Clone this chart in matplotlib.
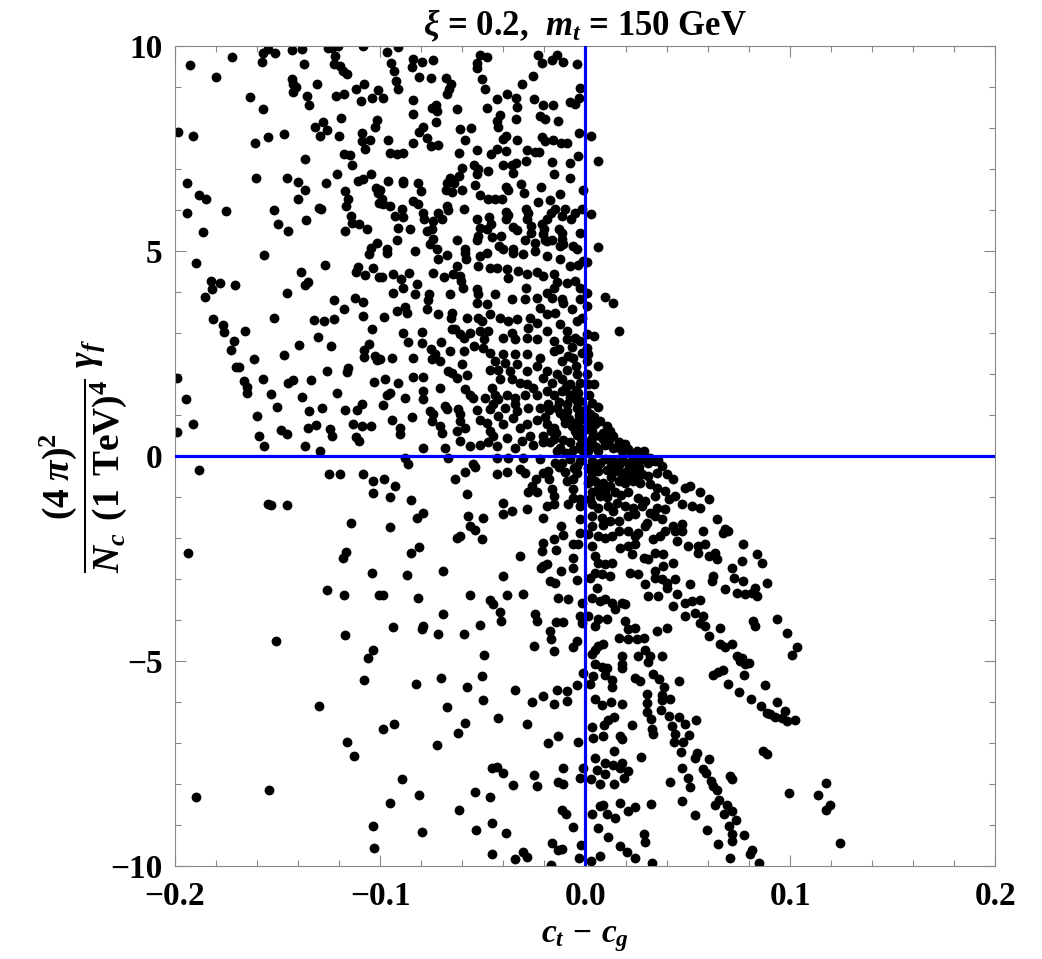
import numpy as np
import matplotlib
matplotlib.use("Agg")
import matplotlib.pyplot as plt
from matplotlib.ticker import MultipleLocator

plt.rcParams['mathtext.fontset'] = 'custom'
plt.rcParams['mathtext.rm'] = 'Liberation Serif:bold'
plt.rcParams['mathtext.it'] = 'Liberation Serif:bold:italic'
plt.rcParams['mathtext.bf'] = 'Liberation Serif:bold'
plt.rcParams['font.family'] = ['Liberation Serif', 'DejaVu Serif']
plt.rcParams['font.weight'] = 'bold'

title = r'$\xi$ = 0.2,  $m_t$ = 150 GeV'
xlabel = r'$c_t\,-\,c_g$'
ylabel = r'$\dfrac{(4\;\pi)^2}{N_c\;\,(1\;\,\mathrm{TeV})^4}\;\gamma_f$'
xticks = [-0.2, -0.1, 0.0, 0.1, 0.2]
xticklabels = ['\u22120.2', '\u22120.1', '0.0', '0.1', '0.2']
yticks = [-10, -5, 0, 5, 10]
yticklabels = ['\u221210', '\u22125', '0', '5', '10']

# region: x in [-0.2,-0.1], y in [5,10]
pts_a = [(-0.1927,9.53),(-0.1724,9.73),(-0.180,9.25),(-0.1569,9.84),(-0.1545,9.93),(-0.1512,9.82),(-0.1574,9.62),
(-0.1428,9.90),(-0.1379,9.93),(-0.1369,9.57),(-0.1255,9.96),(-0.1236,9.96),(-0.1203,10.0),(-0.122,9.76),(-0.1223,9.55),
(-0.1195,9.51),(-0.1179,9.39),(-0.1163,9.31),(-0.1081,10.0),(-0.1431,9.19),(-0.1423,9.07),(-0.1411,9.01),(-0.1423,8.88),
(-0.1354,8.78),(-0.1346,8.55),(-0.1309,9.07),(-0.1634,8.76),(-0.1569,8.47),(-0.1215,8.78),(-0.1174,8.84),(-0.1119,8.96),
(-0.1078,9.08),(-0.1094,8.67),(-0.1041,8.74),(-0.1011,8.92),(-0.1987,7.90),(-0.1911,7.80),(-0.161,7.64),(-0.1545,7.79),
(-0.1468,7.85),(-0.1317,8.03),(-0.1276,8.15),(-0.126,7.95),(-0.1293,7.80),(-0.1192,8.25),(-0.12,7.80),(-0.1089,7.87),
(-0.1089,7.68),(-0.1049,7.70),(-0.1024,8.02),(-0.1016,8.19),(-0.1073,7.48),(-0.1174,7.36),(-0.1146,7.33),(-0.1135,7.11),
(-0.1366,7.25),(-0.1211,6.87),(-0.1044,6.87),(-0.1941,6.67),(-0.1607,6.77),(-0.1452,6.77),(-0.1398,6.69),(-0.1366,6.49),
(-0.1265,6.67),(-0.1171,6.46),(-0.1106,6.71),(-0.1085,6.75),(-0.102,6.54),(-0.1008,6.42),(-0.1883,6.37),(-0.185,6.26),
(-0.1398,6.27),(-0.1154,6.28),(-0.1166,6.10),(-0.1005,6.18),(-0.1941,5.93),(-0.1753,5.98),(-0.1515,6.0),(-0.1298,6.05),
(-0.1288,6.03),(-0.1361,5.75),(-0.1496,5.65),(-0.1143,5.85),(-0.1138,5.69),(-0.1101,5.65),(-0.1062,5.54),(-0.1171,5.48),
(-0.1447,5.50),(-0.1862,5.47),(-0.1046,5.07),(-0.1016,5.20)]

# region: x in [-0.1,0], y in [5,10]
pts_b = [(-0.0967,9.85),(-0.0911,9.98),(-0.0946,9.59),(-0.0837,9.69),(-0.0846,9.49),(-0.0797,9.61),(-0.0743,9.67),
(-0.0932,9.38),(-0.0922,9.15),(-0.0911,8.96),(-0.0984,8.74),(-0.0808,9.25),(-0.0753,9.23),(-0.068,9.21),(-0.0654,9.08),
(-0.0663,8.94),(-0.0675,8.82),(-0.0841,8.68),(-0.0837,8.33),(-0.0748,8.48),(-0.0727,8.55),(-0.072,8.41),(-0.0626,8.47),
(-0.0727,8.15),(-0.0789,8.02),(-0.0808,7.90),(-0.0772,7.76),(-0.0753,7.56),(-0.0715,7.58),(-0.0959,7.70),(-0.0841,7.64),
(-0.0954,7.40),(-0.0919,7.36),(-0.0886,7.38),(-0.061,7.97),(-0.0558,8.01),(-0.0585,7.72),(-0.0615,7.38),(-0.0525,7.46),
(-0.0528,9.59),(-0.0512,9.77),(-0.0476,9.74),(-0.0528,9.47),(-0.0501,9.19),(-0.0488,8.96),(-0.0431,8.70),(-0.0379,8.82),
(-0.0338,8.74),(-0.0333,8.51),(-0.048,8.50),(-0.0415,8.32),(-0.0428,8.17),(-0.0423,8.02),(-0.0337,8.23),(-0.0309,9.08),
(-0.0255,9.28),(-0.0228,9.77),(-0.0208,9.59),(-0.0159,9.67),(-0.0135,9.77),(-0.0106,9.61),(-0.0041,9.55),(-0.0024,8.98),
(-0.0029,8.74),(-0.0073,8.63),(-0.0049,8.58),(-0.0247,8.72),(-0.0203,8.56),(-0.0158,8.55),(-0.022,8.29),(-0.0195,8.23),
(-0.013,8.17),(-0.0333,7.72),(-0.0385,7.80),(-0.0398,7.74),(-0.0211,7.79),(-0.0195,7.68),(-0.0158,7.71),(-0.0119,7.64),
(-0.0089,7.63),(-0.0028,7.89),(-0.0285,7.46),(-0.0244,7.41),(-0.0223,7.41),(-0.0431,7.48),(-0.0459,7.36),(-0.0385,7.44),
(-0.0033,7.32),(-0.0402,7.09),(-0.0358,7.11),(-0.0337,7.14),(-0.0289,7.20),(-0.0163,7.17),(-0.0073,7.14),(-0.0073,6.79),
(-0.0154,6.87),(-0.0354,6.91),(-0.0472,6.95),(-0.054,7.11),(-0.0524,6.99),(-0.0528,6.87),(-0.0602,7.03),(-0.0659,6.79),
(-0.0675,6.65),(-0.0639,6.67),(-0.0613,6.83),(-0.0678,6.50),(-0.065,6.45),(-0.0598,6.50),(-0.0537,6.60),(-0.0512,6.36),
(-0.0959,6.71),(-0.0889,6.71),(-0.0886,6.65),(-0.0816,6.67),(-0.08,6.46),(-0.1,6.50),(-0.0992,6.28),(-0.0984,6.14),
(-0.0954,6.10),(-0.0385,6.57),(-0.0377,6.49),(-0.0311,6.64),(-0.0298,6.42),(-0.0215,6.57),(-0.0122,6.40),(-0.0011,6.50),
(-0.0475,6.26),(-0.0439,6.26),(-0.0403,6.26),(-0.0228,6.20),(-0.0171,6.24),(-0.0837,6.22),(-0.0813,6.14),(-0.0789,5.93),
(-0.0894,6.02),(-0.0927,5.85),(-0.0889,5.84),(-0.0784,5.77),(-0.074,5.73),(-0.0719,5.93),(-0.0667,6.0),(-0.0696,5.79),
(-0.0675,6.10),(-0.0593,6.02),(-0.0528,5.79),(-0.0468,5.83),(-0.0459,5.65),(-0.0385,5.96),(-0.0377,5.87),(-0.0385,5.79),
(-0.0289,6.02),(-0.028,5.93),(-0.0265,5.61),(-0.0208,5.65),(-0.0198,5.53),(-0.0184,5.77),(-0.0167,5.93),(-0.0146,6.02),
(-0.0114,5.85),(-0.0098,6.02),(-0.007,5.77),(-0.0049,5.93),(-0.0016,6.02),(-0.0285,5.77),(-0.0911,5.57),(-0.0854,5.53),
(-0.0772,5.50),(-0.0748,5.53),(-0.0515,5.57),(-0.048,5.53),(-0.052,5.37),(-0.0455,5.34),(-0.0411,5.37),(-0.035,5.59),
(-0.0333,5.51),(-0.0263,5.45),(-0.0203,5.41),(-0.0195,5.28),(-0.0125,5.54),(-0.0114,5.45),(-0.0114,5.30),(-0.0106,5.16),
(-0.0057,5.12),(-0.0024,5.45),(-0.0919,5.28),(-0.074,5.30),(-0.0756,5.16),(-0.0623,5.26),(-0.0528,5.28),(-0.0418,5.12),
(-0.0293,5.28),(-0.0244,5.20),(-0.0187,5.24),(-0.0159,5.26),(-0.0122,5.12),(-0.0041,5.04),(-0.0967,5.04),(-0.0724,5.04),
(-0.0585,5.04),(-0.0398,5.04),(-0.035,5.04)]

# region: x in [-0.2,-0.1], y in [0,5]
pts_c = [(-0.1564,4.90),(-0.1898,4.70),(-0.1824,4.28),(-0.178,4.22),(-0.1818,4.07),(-0.1854,3.89),(-0.1707,4.16),
(-0.1387,4.50),(-0.1366,4.17),(-0.1353,4.24),(-0.1455,3.97),(-0.1268,4.67),(-0.1109,4.62),(-0.1117,4.49),(-0.1073,4.41),
(-0.1033,4.59),(-0.1005,4.37),(-0.1052,4.93),(-0.1816,3.33),(-0.1767,3.20),(-0.1759,3.02),(-0.1659,3.05),(-0.1711,2.80),
(-0.1727,2.59),(-0.1517,3.37),(-0.132,3.32),(-0.1275,3.29),(-0.1224,3.35),(-0.1224,3.80),(-0.1174,3.58),(-0.1122,3.86),
(-0.1081,3.76),(-0.1085,3.41),(-0.1041,3.11),(-0.1304,2.90),(-0.1395,2.71),(-0.1239,2.68),(-0.1052,2.74),(-0.1076,2.59),
(-0.1078,2.42),(-0.1024,2.44),(-0.1013,2.34),(-0.1613,2.36),(-0.1468,2.46),(-0.1702,2.18),(-0.1688,2.18),(-0.1992,1.91),
(-0.1662,1.83),(-0.1647,1.69),(-0.165,1.54),(-0.1569,1.88),(-0.145,1.77),(-0.1423,1.85),(-0.1337,1.85),(-0.1257,2.07),
(-0.1158,2.15),(-0.1163,2.05),(-0.1028,1.80),(-0.1948,1.38),(-0.1533,1.52),(-0.1382,1.45),(-0.1211,1.53),(-0.1602,0.97),
(-0.1501,1.19),(-0.1345,1.10),(-0.1281,1.18),(-0.1169,1.13),(-0.1111,1.11),(-0.1089,1.26),(-0.1911,0.77),(-0.1989,0.59),
(-0.1589,0.50),(-0.1564,0.24),(-0.1483,0.63),(-0.1455,0.54),(-0.135,0.69),(-0.1314,0.75),(-0.1244,0.65),(-0.1233,0.50),
(-0.113,0.79),(-0.1089,0.73),(-0.1044,0.72),(-0.1117,0.46),(-0.1102,0.37),(-0.1366,0.24),(-0.1293,0.11)]

# region: x in [-0.1,0], y in [0,5]
pts_d = [(-0.0967,4.96),(-0.0829,4.99),(-0.0715,4.80),(-0.0675,4.90),(-0.0585,4.96),(-0.0582,4.80),(-0.0512,4.88),
(-0.048,4.96),(-0.035,4.96),(-0.0301,4.92),(-0.0244,4.99),(-0.0187,4.88),(-0.0122,4.80),(-0.0073,4.63),(-0.0033,4.67),
(-0.0008,4.76),(-0.0992,4.37),(-0.0938,4.43),(-0.0899,4.31),(-0.0857,4.47),(-0.074,4.47),(-0.0686,4.37),(-0.0646,4.45),
(-0.061,4.39),(-0.0626,4.63),(-0.052,4.63),(-0.0463,4.59),(-0.0431,4.59),(-0.0382,4.55),(-0.0374,4.35),(-0.0325,4.51),
(-0.0285,4.43),(-0.0236,4.50),(-0.0203,4.39),(-0.0154,4.43),(-0.0138,4.25),(-0.0089,4.23),(-0.0049,4.27),(-0.0024,4.11),
(-0.0935,3.98),(-0.0889,4.09),(-0.0818,4.19),(-0.0829,3.94),(-0.0759,3.96),(-0.0764,3.80),(-0.0659,3.94),(-0.0605,4.28),
(-0.0597,4.09),(-0.0528,4.07),(-0.052,3.94),(-0.0528,3.74),(-0.048,3.70),(-0.0439,3.94),(-0.0358,3.82),(-0.0289,4.09),
(-0.0293,3.82),(-0.0236,3.86),(-0.0187,3.98),(-0.0154,4.09),(-0.0163,3.86),(-0.0114,3.82),(-0.022,3.62),(-0.0187,3.46),
(-0.0146,3.50),(-0.0106,3.74),(-0.0065,3.58),(-0.0024,3.82),(-0.098,3.39),(-0.0919,3.54),(-0.0878,3.63),(-0.087,3.50),
(-0.0772,3.58),(-0.0715,3.46),(-0.065,3.50),(-0.0654,3.37),(-0.0577,3.37),(-0.052,3.37),(-0.0504,3.29),(-0.0463,3.46),
(-0.0415,3.37),(-0.0374,3.29),(-0.0333,3.33),(-0.0268,3.37),(-0.0236,3.25),(-0.0276,3.13),(-0.0122,3.21),(-0.0089,3.05),
(-0.0041,3.29),(-0.0016,3.37),(-0.0886,3.01),(-0.0797,3.03),(-0.0862,2.79),(-0.0797,2.76),(-0.0704,2.79),(-0.065,3.09),
(-0.0634,3.09),(-0.061,2.97),(-0.0593,2.87),(-0.0561,3.01),(-0.0512,3.05),(-0.0472,3.05),(-0.0493,2.85),(-0.054,2.68),
(-0.0496,2.63),(-0.0402,2.89),(-0.0358,3.01),(-0.0341,2.85),(-0.0285,2.89),(-0.0236,2.85),(-0.0187,3.05),(-0.0154,2.80),
(-0.0089,2.85),(-0.0049,2.89),(-0.0024,2.80),(-0.1,2.36),(-0.0943,2.38),(-0.0837,2.38),(-0.0751,2.60),(-0.0732,2.48),
(-0.0707,2.32),(-0.0748,2.36),(-0.0659,2.56),(-0.0593,2.56),(-0.0463,2.52),(-0.0439,2.32),(-0.0398,2.48),(-0.039,2.28),
(-0.0341,2.48),(-0.0285,2.48),(-0.022,2.40),(-0.0236,2.20),(-0.0154,2.56),(-0.0114,2.32),(-0.0057,2.40),(-0.0016,2.52),
(-0.0423,2.11),(-0.0366,2.07),(-0.0333,2.24),(-0.0285,2.07),(-0.0187,2.07),(-0.0138,1.99),(-0.0089,2.11),(-0.0041,1.99),
(-0.0976,1.87),(-0.0911,1.79),(-0.0837,1.93),(-0.0792,1.93),(-0.0667,2.07),(-0.065,2.03),(-0.0626,1.91),(-0.0574,1.98),
(-0.0602,2.24),(-0.0463,2.11),(-0.0415,1.87),(-0.0358,1.87),(-0.0317,1.79),(-0.0285,1.75),(-0.0252,1.67),(-0.0203,1.91),
(-0.0163,1.79),(-0.0114,1.87),(-0.0073,1.75),(-0.0024,1.79),(-0.0967,1.49),(-0.0951,1.54),(-0.0878,1.41),(-0.0789,1.59),
(-0.0707,1.67),(-0.0792,1.38),(-0.0585,1.63),(-0.0561,1.50),(-0.0545,1.42),(-0.0488,1.42),(-0.0455,1.65),(-0.0439,1.50),
(-0.0423,1.38),(-0.0382,1.50),(-0.0341,1.42),(-0.0293,1.50),(-0.0236,1.50),(-0.0187,1.59),(-0.0154,1.50),(-0.0114,1.59),
(-0.0073,1.50),(-0.0033,1.54),(-0.0984,1.24),(-0.0756,1.10),(-0.074,1.02),(-0.0683,1.22),(-0.0675,1.14),(-0.0618,1.14),
(-0.061,1.02),(-0.0528,1.11),(-0.0463,1.14),(-0.0447,1.26),(-0.0423,0.98),(-0.039,1.18),(-0.0341,1.26),(-0.0333,1.10),
(-0.0276,1.18),(-0.022,1.18),(-0.0179,1.26),(-0.0138,1.18),(-0.0089,1.26),(-0.0041,1.18),(-0.0024,1.34),(-0.0943,0.89),
(-0.0902,0.69),(-0.0902,0.53),(-0.0846,0.95),(-0.0748,0.85),(-0.0707,0.73),(-0.0699,0.57),(-0.061,0.85),(-0.0585,0.69),
(-0.0626,0.61),(-0.0512,0.89),(-0.048,0.81),(-0.0463,0.61),(-0.0447,0.49),(-0.0398,0.77),(-0.035,0.93),(-0.0317,0.69),
(-0.0285,0.77),(-0.0236,0.89),(-0.0187,0.77),(-0.0154,0.69),(-0.0098,0.81),(-0.0057,0.77),(-0.0024,0.69),(-0.0789,0.20),
(-0.0683,0.20),(-0.061,0.37),(-0.0561,0.24),(-0.0512,0.28),(-0.0472,0.33),(-0.0431,0.24),(-0.0382,0.45),(-0.0341,0.20),
(-0.0309,0.37),(-0.0268,0.49),(-0.0252,0.28),(-0.0203,0.33),(-0.0154,0.41),(-0.0122,0.20),(-0.0073,0.33),(-0.0024,0.28),
(-0.005,0.6),(-0.008,0.9),(-0.003,1.0),(-0.011,0.4),(-0.006,0.15),(-0.014,0.55),(-0.002,0.45),(-0.004,1.35),(-0.009,1.1),
(-0.001,0.9),(-0.017,0.35),(-0.012,1.05)]

# dense core around the origin
pts_core = [(-0.0015,0.15),(-0.004,0.52),(-0.0065,0.72),(-0.0015,0.58),(-0.0035,0.85),(-0.0105,0.95),(-0.0075,1.42),
(-0.0125,1.32),(-0.0045,1.62),(-0.0095,1.68),(-0.0175,1.12),(-0.0195,0.95),(-0.0165,0.62),(-0.0205,0.5),(-0.0135,0.12),
(-0.0095,0.08),(-0.0045,2.2),(-0.0085,2.45),(-0.0125,2.62),(-0.0065,2.65),(0.0015,0.25),(0.0035,0.45),(0.0055,0.22),
(0.0085,0.55),(0.0115,0.4),(0.0135,0.48),(0.0045,0.95),(0.0035,1.3),(0.0015,0.82),(0.0155,0.22),(0.0195,0.3),
(0.0225,0.05),(0.0275,-0.05),(0.0315,-0.05),(0.0355,-0.1),(0.0125,-0.25),(0.0165,-0.22),(0.0225,-0.25),(0.0265,-0.28),
(0.0055,-0.22),(0.0015,-0.3),(0.0025,-0.55),(0.0125,-0.5),(0.0175,-0.55),(0.0215,-0.52),(0.0255,-0.55),(0.0065,-0.8),
(0.0105,-1.0),(0.0175,-0.95),(0.0135,-1.35),(0.0085,-1.68),(0.0025,-1.05),(-0.0025,-0.12),(-0.0055,-0.3),(-0.0125,-0.28),
(-0.0175,-0.55),(0.0005,1.15),(0.0005,0.65),(0.0015,2.5),(0.0045,1.75)]

# region: x in [0,0.2], y in [0,10]
pts_e = [(0.0063,7.2),(0.003,7.8),(0.003,5.9),(0.0063,5.1),(0.0008,4.72),(0.0008,3.98),(0.0008,3.66),(0.0098,3.88),
(0.0138,3.72),(0.0166,3.05),(0.0044,2.93),(0.0008,2.98),(0.0008,2.64),(0.0065,2.20),(0.0008,2.32),(0.0008,1.99),
(0.0016,1.75),(0.002,1.50),(0.0065,1.20),(0.0024,1.02),(0.0073,0.85),(0.0106,0.73),(0.0122,0.61),(0.0049,0.77),
(0.0033,0.61),(0.0073,0.49),(0.0163,0.35),(0.0211,0.16),(0.0252,0.12),(0.0285,0.12),(0.0041,0.28),(0.0098,0.28),
(0.0138,0.20),(0.0016,0.12),(0.0065,0.12),(0.0179,0.12),(0.0024,0.37),(0.0089,0.41)]

# region: x in [-0.2,-0.1], y in [-10,0]
pts_f = [(-0.1883,-0.35),(-0.1249,-0.45),(-0.1197,-0.45),(-0.1081,-0.43),(-0.1036,-0.62),(-0.1036,-0.91),(-0.1545,-1.16),
(-0.1533,-1.20),(-0.1455,-1.20),(-0.1143,-1.63),(-0.1938,-2.36),(-0.1167,-2.34),(-0.1179,-2.48),(-0.1041,-2.86),
(-0.1259,-3.28),(-0.1176,-3.40),(-0.1005,-3.40),(-0.1169,-4.36),(-0.1509,-4.51),(-0.1034,-4.72),(-0.1057,-4.92),
(-0.1078,-5.47),(-0.1298,-6.11),(-0.1163,-6.98),(-0.1127,-7.32),(-0.154,-8.15),(-0.1899,-8.32),(-0.1034,-9.02),
(-0.1029,-9.55)]

# region: x in [-0.1,0], y in [-10,0]
pts_g = [(-0.0878,-0.04),(-0.0862,-0.20),(-0.0667,-0.04),(-0.0545,-0.20),(-0.0537,-0.28),(-0.0585,-0.39),(-0.0634,-0.57),
(-0.0577,-0.92),(-0.0431,-0.04),(-0.0374,-0.04),(-0.0301,-0.04),(-0.022,-0.08),(-0.0431,-0.43),(-0.0382,-0.38),
(-0.0317,-0.31),(-0.0293,-0.41),(-0.0239,-0.57),(-0.026,-0.73),(-0.0276,-0.89),(-0.0236,-0.89),(-0.0203,-0.41),
(-0.0179,-0.37),(-0.0146,-0.16),(-0.0114,-0.16),(-0.0073,-0.08),(-0.0041,-0.24),(-0.0098,-0.39),(-0.0089,-0.61),
(-0.0057,-0.57),(-0.0041,-0.41),(-0.0163,-0.81),(-0.0154,-0.98),(-0.0187,-1.22),(-0.0154,-1.18),(-0.0057,-0.80),
(-0.0057,-1.02),(-0.0024,-1.06),(-0.0081,-1.18),(-0.0024,-1.22),(-0.098,-0.57),(-0.0927,-0.72),(-0.0951,-1.00),
(-0.085,-1.07),(-0.0821,-1.52),(-0.0789,-1.38),(-0.0951,-1.73),(-0.0569,-1.46),(-0.0499,-1.50),(-0.0561,-1.71),
(-0.0537,-1.80),(-0.0623,-1.99),(-0.061,-1.95),(-0.0501,-2.03),(-0.0398,-1.14),(-0.0398,-1.42),(-0.0358,-1.33),
(-0.0281,-1.30),(-0.0203,-1.50),(-0.0117,-1.71),(-0.0106,-1.93),(-0.0151,-2.03),(-0.0203,-2.11),(-0.0024,-1.54),
(-0.0024,-1.87),(-0.0057,-2.15),(-0.0033,-2.15),(-0.0211,-2.32),(-0.0143,-2.29),(-0.0317,-2.44),(-0.0849,-2.37),
(-0.081,-2.21),(-0.0203,-2.68),(-0.0216,-2.72),(-0.0187,-2.64),(-0.0057,-2.48),(-0.0117,-2.80),(-0.0057,-2.72),
(-0.087,-2.90),(-0.0691,-2.80),(-0.0398,-2.93),(-0.0171,-3.05),(-0.0146,-3.09),(-0.0041,-3.02),(-0.0987,-3.40),
(-0.0813,-3.46),(-0.0561,-3.39),(-0.0463,-3.51),(-0.0447,-3.60),(-0.0379,-3.40),(-0.0301,-3.36),(-0.0133,-3.46),
(-0.0081,-3.48),(-0.0016,-3.58),(-0.0415,-3.80),(-0.0411,-4.02),(-0.0244,-3.86),(-0.0236,-4.02),(-0.0143,-4.05),
(-0.0106,-4.05),(-0.0694,-3.85),(-0.0789,-4.15),(-0.0797,-4.21),(-0.0935,-4.17),(-0.0719,-4.35),(-0.0593,-4.33),
(-0.0512,-4.11),(-0.0171,-4.27),(-0.0166,-4.47),(-0.0249,-4.63),(-0.0154,-4.76),(-0.0057,-4.66),(-0.0041,-4.51),
(-0.0491,-4.86),(-0.0024,-3.90),(-0.0016,-4.07),
(-0.0826,-5.55),(-0.0704,-5.41),(-0.0501,-5.37),(-0.0574,-5.63),(-0.0341,-5.71),(-0.026,-6.0),(-0.0203,-5.85),
(-0.0138,-5.71),(-0.0086,-5.73),(-0.0037,-5.59),(-0.0011,-5.30),(-0.0151,-6.04),(-0.0086,-5.98),(-0.0496,-5.96),
(-0.0672,-6.12),(-0.0984,-6.65),(-0.0932,-6.53),(-0.0585,-6.52),(-0.0621,-6.76),(-0.0423,-6.40),(-0.0285,-6.53),
(-0.072,-7.05),(-0.0182,-7.01),(-0.013,-6.83),(-0.0033,-6.98),(-0.0455,-7.62),(-0.0431,-7.59),(-0.0402,-7.74),
(-0.0249,-7.79),(-0.0233,-8.05),(-0.0354,-8.03),(-0.013,-7.94),(-0.0106,-7.99),(-0.0106,-7.62),(-0.0011,-7.62),
(-0.0024,-7.85),(-0.0891,-7.87),(-0.081,-8.28),(-0.0954,-8.46),(-0.0537,-8.19),(-0.0463,-8.32),(-0.0613,-8.64),
(-0.0114,-8.64),(-0.0094,-8.74),(-0.006,-9.04),(-0.0797,-9.17),(-0.0532,-9.12),(-0.0452,-8.96),(-0.0387,-9.20),
(-0.0163,-9.45),(-0.013,-9.61),(-0.0114,-9.59),(-0.002,-9.49),(-0.0452,-9.72),(-0.0341,-9.82),(-0.0304,-9.67),
(-0.0285,-9.77),(-0.0167,-9.98),(-0.0028,-9.80)]

# region: x in [0,0.1], y in [-5,0]
pts_h = [(0.0033,-0.12),(0.0073,-0.16),(0.0098,-0.08),(0.0138,-0.12),(0.0179,-0.08),(0.0211,-0.16),(0.0244,-0.12),
(0.0276,-0.08),(0.0309,-0.16),(0.0341,-0.12),(0.0374,-0.24),(0.0398,-0.45),(0.0431,-0.57),(0.0033,-0.41),(0.0065,-0.37),
(0.0106,-0.33),(0.0146,-0.37),(0.0179,-0.41),(0.0211,-0.33),(0.0244,-0.37),(0.0276,-0.45),(0.0309,-0.49),(0.035,-0.41),
(0.0016,-0.65),(0.0049,-0.61),(0.0089,-0.65),(0.0122,-0.73),(0.0163,-0.61),(0.0195,-0.65),(0.0236,-0.61),(0.0268,-0.65),
(0.0317,-0.69),(0.035,-0.77),(0.039,-0.85),(0.0488,-0.77),(0.0512,-0.73),(0.0561,-0.89),(0.0602,-1.06),(0.0033,-0.89),
(0.0073,-0.98),(0.0098,-0.85),(0.0146,-0.89),(0.0211,-0.89),(0.026,-1.02),(0.0293,-1.10),(0.0341,-0.98),(0.0407,-1.06),
(0.0439,-0.98),(0.0472,-1.18),(0.052,-1.22),(0.0561,-1.26),(0.0033,-1.18),(0.0065,-1.26),(0.0114,-1.22),(0.0154,-1.14),
(0.0195,-1.22),(0.0236,-1.26),(0.0276,-1.22),(0.0317,-1.38),(0.035,-1.26),(0.039,-1.30),(0.0033,-1.46),(0.0081,-1.50),
(0.0122,-1.59),(0.0163,-1.59),(0.0211,-1.46),(0.0244,-1.42),(0.0301,-1.63),(0.0341,-1.46),(0.0374,-1.54),(0.0293,-1.71),
(0.0431,-1.71),(0.0472,-1.67),(0.0439,-1.83),(0.0472,-1.83),(0.0577,-1.83),(0.0642,-1.54),(0.0683,-1.79),(0.0675,-1.87),
(0.0699,-1.83),(0.0033,-1.71),(0.0016,-1.91),(0.0065,-1.95),(0.0098,-1.99),(0.013,-1.95),(0.0163,-1.83),(0.0211,-1.83),
(0.0244,-1.95),(0.026,-1.87),(0.0333,-2.03),(0.0366,-1.95),(0.039,-1.83),(0.0447,-2.07),(0.0504,-2.20),(0.0553,-2.20),
(0.0585,-2.15),(0.0602,-2.44),(0.0634,-2.36),(0.0642,-2.52),(0.0553,-2.36),(0.0772,-2.15),(0.0837,-2.40),(0.0862,-2.60),
(0.0715,-2.72),(0.0764,-2.56),(0.0033,-2.20),(0.0049,-2.44),(0.0065,-2.60),(0.0098,-2.64),(0.013,-2.60),(0.0171,-2.24),
(0.0211,-2.20),(0.0228,-2.40),(0.0244,-2.15),(0.0285,-2.48),(0.0309,-2.52),(0.0341,-2.36),(0.0382,-2.40),(0.0431,-2.60),
(0.0341,-2.80),(0.0382,-2.68),(0.0049,-2.85),(0.0024,-2.97),(0.0081,-2.89),(0.0122,-2.93),(0.022,-2.85),(0.026,-2.89),
(0.0293,-3.13),(0.0341,-2.97),(0.0374,-3.01),(0.0398,-3.09),(0.0398,-3.21),(0.0439,-3.01),(0.0512,-3.13),(0.0626,-2.93),
(0.0618,-3.05),(0.0683,-3.25),(0.0724,-2.97),(0.0772,-3.05),(0.0829,-3.21),(0.0813,-3.33),(0.0837,-3.41),(0.0886,-3.09),
(0.074,-3.33),(0.078,-3.37),(0.0057,-3.21),(0.0033,-3.46),(0.0073,-3.54),(0.0098,-3.50),(0.013,-3.58),(0.0146,-3.74),
(0.0179,-3.58),(0.0195,-3.62),(0.0309,-3.41),(0.0358,-3.41),(0.0431,-3.66),(0.0447,-3.37),(0.0488,-3.58),(0.052,-3.54),
(0.0561,-3.51),(0.0065,-3.98),(0.0106,-3.98),(0.0049,-4.15),(0.0016,-3.90),(0.0195,-4.02),(0.0244,-4.19),(0.0211,-4.23),
(0.035,-4.27),(0.0398,-4.19),(0.0488,-3.90),(0.0537,-3.82),(0.0577,-3.90),(0.0561,-4.07),(0.0585,-4.15),(0.0659,-4.19),
(0.0602,-4.39),(0.0821,-4.02),(0.0829,-4.15),(0.0935,-3.98),(0.0984,-4.31),(0.0163,-4.43),(0.0211,-4.47),(0.0252,-4.47),
(0.0285,-4.43),(0.0293,-4.72),(0.0065,-4.63),(0.0089,-4.59),(0.0033,-4.84),(0.0049,-4.72),(0.0179,-4.88),(0.026,-4.88),
(0.0317,-4.88),(0.0374,-4.88),(0.0659,-4.59),(0.0683,-4.67),(0.0715,-4.59),(0.074,-4.88),(0.0764,-4.92)]

# region: x in [0,0.2], y in [-10,-5]
pts_i = [(0.0046,-5.08),(0.0081,-5.15),(0.0106,-5.18),(0.0098,-5.33),(0.0179,-5.08),(0.0182,-5.18),(0.0309,-5.02),
(0.0041,-5.37),(0.0024,-5.57),(0.013,-5.47),(0.0133,-5.63),(0.0244,-5.41),(0.0268,-5.49),(0.0333,-5.31),(0.0361,-5.45),
(0.0385,-5.63),(0.046,-5.50),(0.0374,-5.83),(0.0374,-5.96),(0.0304,-5.81),(0.0301,-6.03),(0.0301,-6.24),(0.0415,-5.92),
(0.0371,-6.20),(0.0046,-5.93),(0.0081,-6.07),(0.0127,-5.99),(0.0179,-6.06),(0.0033,-6.61),(0.0041,-6.89),(0.0143,-6.37),
(0.0114,-6.45),(0.0094,-6.56),(0.0085,-6.83),(0.0171,-6.83),(0.0179,-6.91),(0.0228,-6.56),(0.032,-6.42),(0.0325,-6.67),
(0.0333,-6.79),(0.041,-6.33),(0.046,-6.37),(0.0426,-6.59),(0.0488,-6.54),(0.0541,-6.45),(0.0439,-6.77),(0.048,-6.98),
(0.0436,-6.98),(0.0507,-6.80),(0.0143,-7.20),(0.0049,-7.37),(0.0098,-7.50),(0.0138,-7.54),(0.0171,-7.62),(0.0179,-7.48),
(0.0211,-7.68),(0.0057,-7.67),(0.0029,-7.89),(0.0073,-8.01),(0.0098,-7.76),(0.0143,-7.99),(0.0192,-7.86),(0.0273,-7.34),
(0.0468,-7.21),(0.0548,-7.24),(0.0537,-7.37),(0.0605,-7.38),(0.0415,-7.95),(0.0475,-7.60),(0.0504,-7.85),(0.0512,-8.07),
(0.0577,-7.64),(0.0589,-7.72),(0.0615,-7.93),(0.0626,-8.05),(0.0642,-8.15),(0.0707,-7.80),(0.0715,-7.89),(0.0472,-8.41),
(0.0537,-8.76),(0.0654,-8.40),(0.0634,-8.52),(0.0691,-8.51),(0.068,-8.74),(0.0715,-8.67),(0.0735,-8.89),(0.0702,-9.02),
(0.0715,-9.23),(0.0715,-9.39),(0.0777,-9.24),(0.0593,-9.12),(0.0033,-8.74),(0.0073,-8.54),(0.0089,-8.51),(0.0106,-8.74),
(0.0146,-8.82),(0.0171,-8.46),(0.0211,-8.66),(0.0244,-8.55),(0.032,-8.48),(0.0062,-9.07),(0.0111,-9.29),(0.0171,-9.51),
(0.0203,-9.65),(0.0244,-9.80),(0.0073,-9.76),(0.0029,-9.88),(0.0285,-9.21),(0.0293,-9.41),(0.0325,-9.92),(0.065,-9.46),
(0.0707,-9.81),(0.0805,-9.72),(0.0813,-9.62),(0.0849,-9.92),(0.0626,-5.34),(0.065,-5.28),(0.0675,-5.23),(0.0696,-5.55),
(0.0751,-5.75),(0.0777,-5.33),(0.0756,-5.0),(0.078,-5.08),(0.08,-5.04),(0.0878,-5.59),(0.0935,-5.99),(0.0808,-5.92),
(0.0857,-6.10),(0.0886,-6.26),(0.0902,-6.30),(0.0924,-6.36),(0.0959,-6.40),(0.0976,-6.22),(0.0984,-6.46),(0.087,-7.20),
(0.0886,-7.26),(0.0995,-8.23),(0.1034,-4.66),(0.101,-4.85),(0.1024,-6.44),(0.1176,-7.98),(0.1195,-8.51),(0.1176,-8.63),
(0.1137,-8.27),(0.1244,-9.44)]

regions = [pts_a, pts_b, pts_c, pts_d, pts_core, pts_e, pts_f, pts_g, pts_h, pts_i]
pts = np.array([p for r in regions for p in r])
x_vals = pts[:, 0]
y_vals = pts[:, 1]

fig = plt.figure(figsize=(10.42, 9.59), dpi=100)
ax = fig.add_axes([0.168, 0.097, 0.787, 0.855])

ax.scatter(x_vals, y_vals, s=50, c='black', linewidths=0, zorder=2)
ax.axhline(0, color='#0000ff', lw=2.3, zorder=3)
ax.axvline(0, color='#0000ff', lw=2.3, zorder=3)

ax.set_xlim(-0.2, 0.2)
ax.set_ylim(-10, 10)
ax.set_xticks(xticks)
ax.set_xticklabels(xticklabels)
ax.set_yticks(yticks)
ax.set_yticklabels(yticklabels)
ax.xaxis.set_minor_locator(MultipleLocator(0.02))
ax.yaxis.set_minor_locator(MultipleLocator(1))
ax.tick_params(which='both', direction='in', top=True, right=True, color='#888888', width=0.8)
ax.tick_params(which='major', length=8, labelsize=24)
ax.tick_params(axis='x', which='major', pad=11)
ax.tick_params(axis='y', which='major', pad=9)
ax.tick_params(which='minor', length=4)
for lab in ax.get_xticklabels() + ax.get_yticklabels():
    lab.set_fontweight('bold')
for sp in ax.spines.values():
    sp.set_color('#888888')
    sp.set_linewidth(0.8)

ax.set_title(title, fontsize=25, fontweight='bold', pad=8)
ax.set_xlabel(xlabel, fontsize=24, labelpad=8)
ax.set_ylabel(ylabel, fontsize=27, labelpad=-14)

fig.savefig('out.png', dpi=100)
